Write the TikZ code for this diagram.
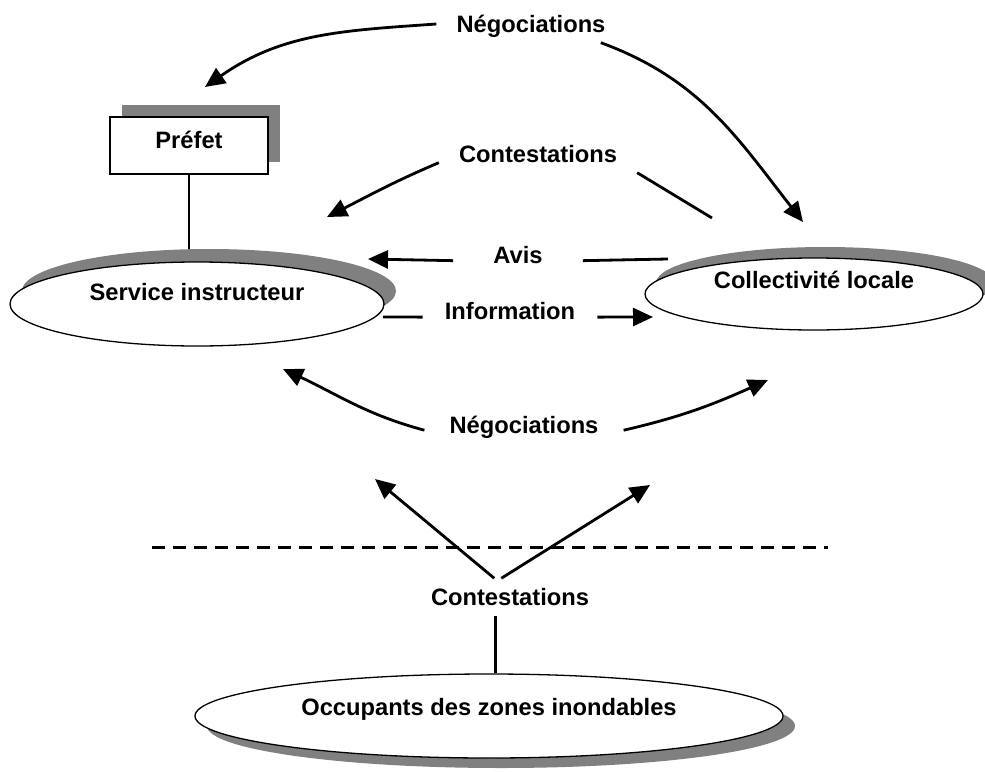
\documentclass[tikz,border=0pt]{standalone}
\usepackage{fontspec}
\setmainfont{Liberation Sans}
\usetikzlibrary{arrows.meta,shapes.geometric,shadows,backgrounds}
\definecolor{gris}{HTML}{808080}

\tikzset{
	ovale/.style={ellipse, draw, fill=white, line width=1.3pt, inner sep=0pt, text height=17pt},
	cadre/.style={rectangle, draw, fill=white, line width=1.3pt, inner sep=0pt, text height=17pt, text depth=11pt, minimum width=158pt, minimum height=57pt},
	ombre/.style 2 args={drop shadow={shadow xshift=#1, shadow yshift=#2, fill=gris, opacity=1}},
	etiq/.style={inner xsep=20pt, inner ysep=10pt, text height=17pt, text depth=0pt},
	fleche/.style={-{Triangle[length=20pt,width=18pt]}, line width=2.8pt},
	trait/.style={line width=2.8pt},
	pointille/.style={line width=3pt, dash pattern=on 13pt off 8pt}
}

\begin{document}
\begin{tikzpicture}[x=1pt, y=-1pt, font=\fontsize{23.7pt}{28pt}\selectfont\bfseries]
\useasboundingbox (0,0) rectangle (985,771);

\node[cadre, ombre={12pt}{12pt}] (prefet) at (189,145.5) {Préfet};
\node[ovale, ombre={12pt}{13pt}, minimum width=374pt, minimum height=84pt, text depth=24pt] (si) at (197,304) {Service instructeur};
\node[ovale, ombre={11pt}{11pt}, minimum width=338pt, minimum height=72pt, text depth=28pt] (cl) at (814,294) {Collectivité locale};
\node[ovale, ombre={12pt}{-10pt}, minimum width=588pt, minimum height=84pt, text depth=18pt] (occ) at (489,716) {Occupants des zones inondables};

\begin{scope}[on background layer]
	\draw[line width=1.5pt] (prefet.south) -- (prefet.south |- si.center);
\end{scope}

% etiquettes
\node[etiq] (neg-haut) at (531,24) {Négociations};
\node[etiq] (cont-mil) at (538,154) {Contestations};
\node[etiq, inner xsep=40pt] (avis) at (518,255) {Avis};
\node[etiq, inner xsep=22pt] (info) at (510,311) {Information};
\node[etiq, inner xsep=25pt] (neg-bas) at (524,425) {Négociations};
\node[etiq] (cont-bas) at (510,597) {Contestations};

% bouts libres
\coordinate (prefet-neg) at (205,87);
\coordinate (cl-neg) at (803,222);
\coordinate (si-cont) at (327,217);
\coordinate (cl-cont) at (712,218);
\coordinate (cl-avis) at (668,259);
\coordinate (si-avis) at (368,259);
\coordinate (si-info) at (383,317);
\coordinate (cl-info) at (653,317);
\coordinate (si-neg) at (283,369);
\coordinate (cl-neg2) at (768,380);
\coordinate (si-occ) at (375,479);
\coordinate (cl-occ) at (650,485);

\path[fleche]
(neg-haut.west) edge[out=184,in=35] (prefet-neg)
(neg-haut.-15) edge[out=-20,in=128] (cl-neg)
(cont-mil.185) edge[out=203,in=27] (si-cont)
(avis.185) edge (si-avis)
(info.-4) edge (cl-info)
(neg-bas.183) edge[out=165,in=-25] (si-neg)
(neg-bas.-3) edge[out=13,in=204] (cl-neg2)
(cont-bas.130) edge (si-occ)
(cont-bas.115) edge (cl-occ)
;
\path[trait]
(cont-mil.south east) edge (cl-cont)
(cl-avis) edge (avis.-5)
(si-info) edge (info.184)
(cont-bas.-127) edge[line width=3pt] (cont-bas.-127 |- occ.north)
;

\draw[pointille] (152,547) -- (828,547);
\end{tikzpicture}
\end{document}
